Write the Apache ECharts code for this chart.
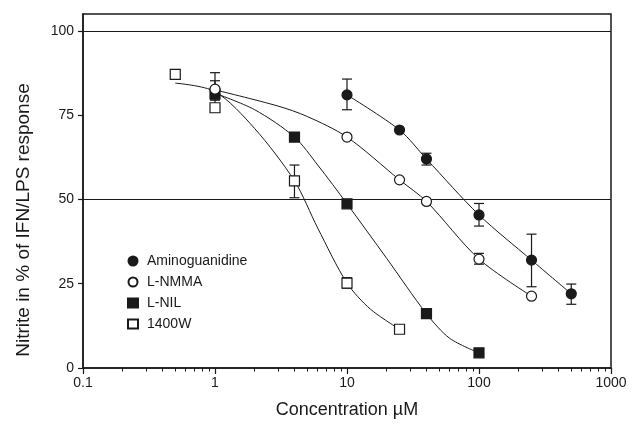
<!DOCTYPE html>
<html>
<head>
<meta charset="utf-8">
<script src="https://cdn.jsdelivr.net/npm/echarts@6/dist/echarts.min.js"></script>
<style>
  html, body { margin: 0; padding: 0; background: #fff; }
  #chart-container { width: 632px; height: 424px; }
</style>
</head>
<body>
<div id="chart-container"></div>
<script>
// measured points (concentration in uM, % response)
const agConc = [10, 25, 40, 100, 250, 500];
const agVal = [81, 70.6, 62, 45.4, 32, 22];
const agLow = [76.6, null, 60.2, 42.1, 24.1, 18.9];
const agHigh = [85.7, null, 63.7, 48.8, 39.7, 24.9];

const nmmaConc = [1, 10, 25, 40, 100, 250];
const nmmaVal = [82.7, 68.5, 55.8, 49.4, 32.3, 21.3];
const nmmaLow = [80, null, null, null, 30.8, null];
const nmmaHigh = [87.6, null, null, null, 34, null];

const nilConc = [1, 4, 10, 40, 100];
const nilVal = [81.3, 68.5, 48.7, 16.1, 4.5];
const nilLow = [79.5, null, null, null, 3.5];
const nilHigh = [85.2, null, null, null, 5.5];

const w1400Conc = [0.5, 1, 4, 10, 25];
const w1400Val = [87.1, 77.2, 55.5, 25.2, 11.5];
const w1400Low = [null, 76, 50.5, 23.7, null];
const w1400High = [null, 79.5, 60.2, 26.8, null];

// fitted curves
const agFitConc = [10, 25, 40, 100, 250, 500];
const agFitVal = [81, 70.6, 62, 45.4, 32, 22];
const nmmaFitConc = [1, 3, 5, 10, 25, 40, 100, 250];
const nmmaFitVal = [82.5, 77.7, 74.6, 68.5, 55.8, 49.4, 32.3, 21.3];
const nilFitConc = [1, 2, 4, 6, 10, 20, 40, 60, 100];
const nilFitVal = [81.5, 76.6, 68.5, 60.2, 48.7, 32.5, 16.1, 8.8, 4.5];
const w1400FitConc = [0.5, 1, 2, 4, 6, 10, 15, 25];
const w1400FitVal = [84.5, 82, 71, 55.5, 41.5, 25.2, 17.5, 11.5];

const xMinorTicks = [0.2, 0.3, 0.4, 0.5, 0.6, 0.7, 0.8, 0.9,
  2, 3, 4, 5, 6, 7, 8, 9, 20, 30, 40, 50, 60, 70, 80, 90,
  200, 300, 400, 500, 600, 700, 800, 900];
const yTicks = [0, 25, 50, 75, 100];

const ink = '#1a1a1a';
const font = '"Liberation Sans", Arial, sans-serif';

function pairs(xs, ys) {
  return xs.map((x, i) => [x, ys[i]]);
}
function errData(xs, lo, hi) {
  const out = [];
  xs.forEach((x, i) => {
    if (lo[i] != null) out.push([x, lo[i], hi[i]]);
  });
  return out;
}

function renderErr(params, api) {
  const top = api.coord([api.value(0), api.value(2)]);
  const bot = api.coord([api.value(0), api.value(1)]);
  const hw = 5;
  const style = { stroke: ink, lineWidth: 1.2 };
  return {
    type: 'group',
    children: [
      { type: 'line', shape: { x1: top[0], y1: top[1], x2: bot[0], y2: bot[1] }, style },
      { type: 'line', shape: { x1: top[0] - hw, y1: top[1], x2: top[0] + hw, y2: top[1] }, style },
      { type: 'line', shape: { x1: bot[0] - hw, y1: bot[1], x2: bot[0] + hw, y2: bot[1] }, style }
    ]
  };
}

function fitLine(name, xs, ys) {
  return {
    name, type: 'line', smooth: 0.3, showSymbol: false, silent: true,
    data: pairs(xs, ys), lineStyle: { color: ink, width: 1 }, z: 2
  };
}
function errSeries(name, xs, lo, hi) {
  return {
    name, type: 'custom', renderItem: renderErr, silent: true,
    data: errData(xs, lo, hi), z: 3
  };
}
function pointSeries(name, xs, ys, symbol, filled) {
  return {
    name, type: 'scatter', symbol, symbolSize: 10,
    data: pairs(xs, ys), z: 5,
    itemStyle: { color: filled ? ink : '#fff', borderColor: ink, borderWidth: 1.2, opacity: 1 }
  };
}

const myChart = echarts.init(document.getElementById('chart-container'), null, { renderer: 'canvas' });

const option = {
  animation: false,
  textStyle: { fontFamily: font },
  grid: { left: 83, right: 21, top: 14, bottom: 56, show: true, borderColor: ink, borderWidth: 1.5 },
  legend: {
    orient: 'vertical', left: 127, top: 254, padding: 0, itemGap: 7, itemWidth: 10, itemHeight: 9,
    data: ['Aminoguanidine', 'L-NMMA', 'L-NIL', '1400W'],
    textStyle: { fontFamily: font, fontSize: 14, color: ink, padding: [0, 0, 0, 4] }
  },
  xAxis: [
    {
      type: 'log', logBase: 10, min: 0.1, max: 1000,
      name: 'Concentration \u00b5M', nameLocation: 'middle', nameGap: 33,
      nameTextStyle: { fontSize: 18, color: ink, fontFamily: font },
      axisLine: { lineStyle: { color: ink, width: 1.5 } },
      axisTick: { show: true, length: 6, lineStyle: { color: ink, width: 1.2 } },
      axisLabel: { fontSize: 14, color: ink, margin: 8, formatter: v => String(v) },
      splitLine: { show: false }
    },
    {
      type: 'log', logBase: 10, min: 0.1, max: 1000, position: 'bottom',
      axisLine: { show: false },
      axisTick: { show: true, length: 3.5, customValues: xMinorTicks, lineStyle: { color: ink, width: 1 } },
      axisLabel: { show: false },
      splitLine: { show: false }
    }
  ],
  yAxis: {
    type: 'value', min: 0, max: 105,
    name: 'Nitrite in % of IFN/LPS response', nameLocation: 'middle', nameGap: 50,
    nameTextStyle: { fontSize: 19, color: ink, fontFamily: font, padding: [0, 58, 0, 0] },
    axisLine: { show: true, lineStyle: { color: ink, width: 1.5 } },
    axisTick: { show: true, length: 5, customValues: yTicks, lineStyle: { color: ink, width: 1.2 } },
    axisLabel: { fontSize: 14, color: ink, margin: 9, customValues: yTicks },
    splitLine: { show: false }
  },
  series: [
    {
      name: 'ref', type: 'line', data: [], silent: true,
      markLine: {
        silent: true, symbol: 'none', label: { show: false },
        lineStyle: { color: ink, width: 1, type: 'solid' },
        data: [{ yAxis: 50 }, { yAxis: 100 }]
      }
    },
    fitLine('fitAG', agFitConc, agFitVal),
    fitLine('fitNMMA', nmmaFitConc, nmmaFitVal),
    fitLine('fitNIL', nilFitConc, nilFitVal),
    fitLine('fit1400W', w1400FitConc, w1400FitVal),
    errSeries('errAG', agConc, agLow, agHigh),
    errSeries('errNMMA', nmmaConc, nmmaLow, nmmaHigh),
    errSeries('errNIL', nilConc, nilLow, nilHigh),
    errSeries('err1400W', w1400Conc, w1400Low, w1400High),
    pointSeries('1400W', w1400Conc, w1400Val, 'rect', false),
    pointSeries('L-NIL', nilConc, nilVal, 'rect', true),
    pointSeries('L-NMMA', nmmaConc, nmmaVal, 'circle', false),
    pointSeries('Aminoguanidine', agConc, agVal, 'circle', true)
  ]
};
myChart.setOption(option);
</script>
</body>
</html>
